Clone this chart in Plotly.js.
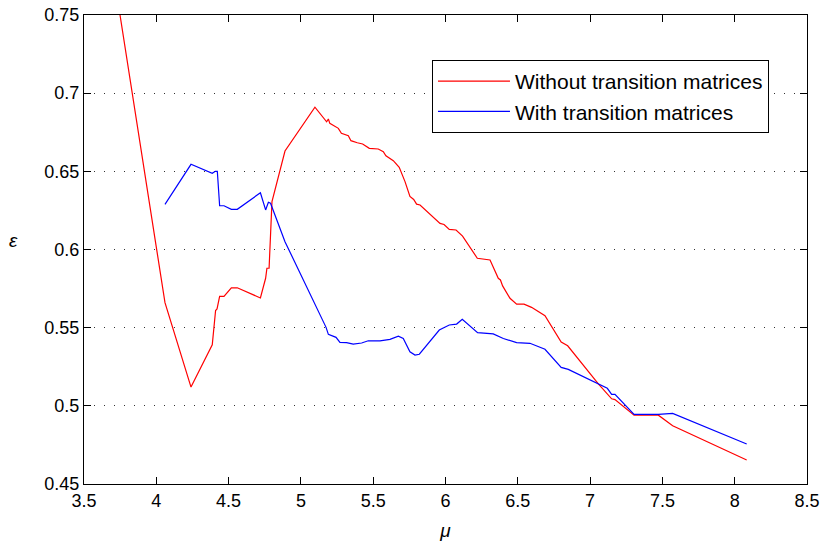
<!DOCTYPE html>
<html>
<head>
<meta charset="utf-8">
<script src="https://cdn.plot.ly/plotly-3.0.1.min.js"></script>
<style>html,body{margin:0;padding:0;background:#fff;}#chart{width:821px;height:546px;}</style>
</head>
<body>
<div id="chart"></div>
<script>
const seriesNames = ["Without transition matrices", "With transition matrices"];

const muWithout = [3.749, 4.060, 4.240, 4.387, 4.410, 4.420, 4.438, 4.468, 4.519, 4.560, 4.720, 4.756, 4.765, 4.780, 4.800, 4.890, 5.097, 5.178, 5.190, 5.200, 5.259, 5.280, 5.328, 5.346, 5.390, 5.427, 5.473, 5.535, 5.570, 5.588, 5.639, 5.680, 5.720, 5.754, 5.780, 5.800, 5.824, 5.927, 5.962, 5.990, 6.026, 6.073, 6.118, 6.220, 6.308, 6.365, 6.380, 6.395, 6.446, 6.492, 6.543, 6.595, 6.630, 6.688, 6.800, 6.845, 7.057, 7.149, 7.172, 7.304, 7.472, 7.571, 8.083];
const epsWithout = [0.750, 0.566, 0.512, 0.539, 0.561, 0.562, 0.570, 0.570, 0.5755, 0.5755, 0.569, 0.5816, 0.588, 0.588, 0.6306, 0.663, 0.691, 0.6817, 0.6835, 0.6807, 0.6775, 0.6743, 0.6728, 0.6696, 0.6683, 0.6675, 0.6647, 0.6643, 0.6626, 0.660, 0.6568, 0.6526, 0.6434, 0.634, 0.632, 0.629, 0.6285, 0.6193, 0.6167, 0.616, 0.6129, 0.6125, 0.6086, 0.5944, 0.5933, 0.5816, 0.5805, 0.5767, 0.5688, 0.565, 0.565, 0.563, 0.5608, 0.5576, 0.5408, 0.5384, 0.514, 0.5045, 0.504, 0.494, 0.494, 0.4873, 0.4653];

const muWith = [4.060, 4.240, 4.387, 4.408, 4.422, 4.438, 4.468, 4.519, 4.560, 4.720, 4.756, 4.775, 4.790, 4.890, 5.174, 5.190, 5.243, 5.270, 5.316, 5.362, 5.420, 5.466, 5.547, 5.616, 5.674, 5.708, 5.754, 5.789, 5.819, 5.957, 6.026, 6.077, 6.116, 6.222, 6.330, 6.400, 6.492, 6.584, 6.688, 6.800, 6.849, 7.119, 7.149, 7.172, 7.304, 7.472, 7.571, 8.083];
const epsWith = [0.6289, 0.6545, 0.6487, 0.650, 0.650, 0.628, 0.628, 0.6257, 0.6257, 0.6363, 0.6253, 0.6302, 0.6296, 0.605, 0.5502, 0.5457, 0.5438, 0.5406, 0.5404, 0.5395, 0.5402, 0.5416, 0.5416, 0.5425, 0.5446, 0.5431, 0.5346, 0.5325, 0.533, 0.5485, 0.5517, 0.5523, 0.5553, 0.5468, 0.546, 0.5431, 0.5404, 0.540, 0.5362, 0.5246, 0.5233, 0.5112, 0.5073, 0.5073, 0.4945, 0.4945, 0.4952, 0.4756];

const xTickVals = [3.5, 4, 4.5, 5, 5.5, 6, 6.5, 7, 7.5, 8, 8.5];
const xTickText = ["3.5", "4", "4.5", "5", "5.5", "6", "6.5", "7", "7.5", "8", "8.5"];
const yTickVals = [0.45, 0.5, 0.55, 0.6, 0.65, 0.7, 0.75];
const yTickText = ["0.45", "0.5", "0.55", "0.6", "0.65", "0.7", "0.75"];
const xLabel = "μ";
const yLabel = "ε";

const FONT = "Liberation Sans, Arial, sans-serif";

const traces = [
  {x: muWithout, y: epsWithout, name: seriesNames[0], type: "scatter", mode: "lines",
   line: {color: "#ff0000", width: 1.2}},
  {x: muWith, y: epsWith, name: seriesNames[1], type: "scatter", mode: "lines",
   line: {color: "#0000ff", width: 1.2}}
];

const layout = {
  width: 821, height: 546,
  margin: {l: 84, r: 14, t: 15, b: 62},
  paper_bgcolor: "#fff", plot_bgcolor: "#fff",
  font: {family: FONT, size: 18, color: "#000"},
  showlegend: true,
  legend: {
    x: 0.4813, y: 0.904, xanchor: "left", yanchor: "top",
    bgcolor: "#fff", bordercolor: "#000", borderwidth: 1,
    font: {family: FONT, size: 21, color: "#000"},
    itemwidth: 72, tracegroupgap: 0
  },
  xaxis: {
    range: [3.5, 8.5], tickmode: "array", tickvals: xTickVals, ticktext: xTickText,
    ticks: "inside", ticklen: 7, tickcolor: "#000", mirror: "ticks",
    showline: true, linecolor: "#000", linewidth: 1,
    showgrid: false, zeroline: false,
    tickfont: {family: FONT, size: 18},
    title: {text: "<i>" + xLabel + "</i>", font: {family: FONT, size: 19}, standoff: 14},
    automargin: false
  },
  yaxis: {
    range: [0.45, 0.75], tickmode: "array", tickvals: yTickVals, ticktext: yTickText,
    ticks: "inside", ticklen: 7, tickcolor: "#000", mirror: "ticks",
    showline: true, linecolor: "#000", linewidth: 1,
    showgrid: true, gridcolor: "#333", gridwidth: 1, griddash: "1px,9px",
    zeroline: false,
    tickfont: {family: FONT, size: 18},
    automargin: false
  },
  annotations: [
    {text: "<i>" + yLabel + "</i>", xref: "paper", yref: "paper", x: -0.098, y: 0.52,
     xanchor: "center", yanchor: "middle", showarrow: false,
     font: {family: FONT, size: 19, color: "#000"}}
  ]
};

Plotly.newPlot("chart", traces, layout, {displayModeBar: false, staticPlot: true});
</script>
</body>
</html>
